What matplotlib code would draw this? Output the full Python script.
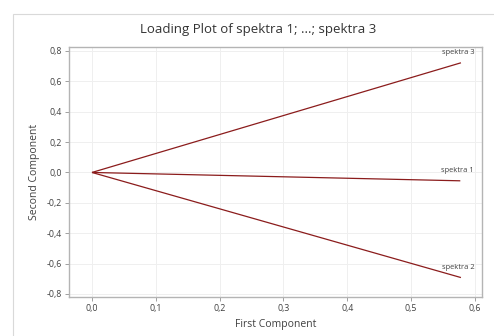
import matplotlib
matplotlib.use("Agg")
import matplotlib.pyplot as plt
from matplotlib.patches import Rectangle
from matplotlib.ticker import FuncFormatter

variables = ["spektra 1", "spektra 2", "spektra 3"]
pc1 = [0.577, 0.578, 0.578]
pc2 = [-0.055, -0.692, 0.722]
xticks = [0.0, 0.1, 0.2, 0.3, 0.4, 0.5, 0.6]
yticks = [-0.8, -0.6, -0.4, -0.2, 0.0, 0.2, 0.4, 0.6, 0.8]

plt.rcParams['font.family'] = ['Open Sans', 'DejaVu Sans']
W, H = 494, 336
fig = plt.figure(figsize=(W / 100, H / 100), dpi=100)
fig.patch.set_facecolor('white')

# outer frame (only left and top edges visible)
fig.patches.append(Rectangle((13 / W, -0.1), 1.2, 1.1 - 14 / H, transform=fig.transFigure,
                             fill=False, edgecolor='#d9d9d9', linewidth=0.8))

ax = fig.add_axes([69 / W, 1 - 297 / H, (482 - 69) / W, (297 - 47) / H])
line_color = '#8b1c1c'
for name, x, y in zip(variables, pc1, pc2):
    ax.plot([0, x], [0, y], color=line_color, linewidth=0.9, solid_capstyle='butt')
    ax.annotate(name, (x, y), xytext=(-2, 5), textcoords='offset points',
                ha='center', va='bottom', fontsize=5.4, color='#404040')

ax.set_xlim(-0.036, 0.611)
ax.set_ylim(-0.82, 0.826)
ax.set_xticks(xticks)
ax.set_yticks(yticks)
fmt = FuncFormatter(lambda v, p: f"{v:.1f}".replace('.', ',').replace('-0,0', '0,0'))
ax.xaxis.set_major_formatter(fmt)
ax.yaxis.set_major_formatter(fmt)
ax.grid(True, color='#efefef', linewidth=0.7)
ax.set_axisbelow(True)
for s in ax.spines.values():
    s.set_color('#b4b4b4')
    s.set_linewidth(1.0)
ax.tick_params(axis='both', length=3, width=0.6, color='#909090', labelsize=6.3,
               labelcolor='#404040', pad=2)

ax.set_xlabel("First Component", fontsize=7.5, color='#404040', labelpad=4)
ax.set_ylabel("Second Component", fontsize=7.5, color='#404040', labelpad=5)
fig.text(258 / W, 1 - 30 / H, "Loading Plot of spektra 1; ...; spektra 3",
         ha='center', va='center', fontsize=9.5, color='#333333')

fig.savefig("out.png", dpi=100, facecolor='white')
